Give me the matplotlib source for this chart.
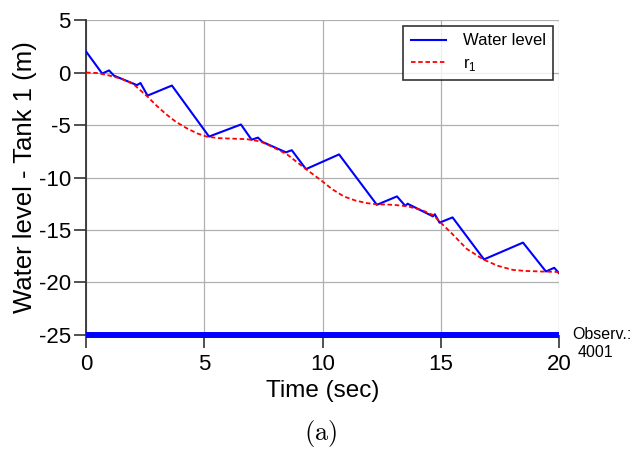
import numpy as np
import matplotlib.pyplot as plt

plt.rcParams['font.family'] = ['Liberation Sans', 'DejaVu Sans']
plt.rcParams['mathtext.fontset'] = 'custom'
plt.rcParams['mathtext.rm'] = 'Liberation Sans'
plt.rcParams['axes.unicode_minus'] = False

wl_t = [0.0, 0.68, 0.97, 1.18, 1.99, 2.15, 2.3, 2.6, 3.63, 5.2, 6.55, 7.0,
        7.27, 7.45, 8.45, 8.7, 9.3, 10.7, 12.3, 13.15, 13.5, 13.6, 14.67,
        14.75, 14.95, 15.5, 16.83, 18.48, 19.45, 19.8, 20.0]
wl_y = [2.0, -0.1, 0.2, -0.3, -1.05, -1.2, -1.0, -2.2, -1.24, -6.1, -4.95,
        -6.4, -6.2, -6.6, -7.6, -7.4, -9.2, -7.8, -12.6, -11.8, -12.7, -12.5,
        -13.7, -13.5, -14.3, -13.8, -17.8, -16.2, -18.95, -18.6, -19.1]

# reference r1
r1_t = [0.0, 0.5, 1.0, 1.5, 2.0, 2.6, 3.0, 3.4, 3.8, 4.25, 4.7, 5.1, 5.6,
        6.2, 6.8, 7.35, 7.9, 8.5, 9.3, 9.9, 10.4, 10.9, 11.4, 11.9, 12.3,
        13.0, 13.6, 14.2, 14.7, 15.0, 15.5, 16.1, 16.8, 17.4, 18.05, 18.6,
        19.2, 20.0]
r1_y = [0.0, -0.05, -0.3, -0.6, -1.1, -2.3, -3.2, -4.0, -4.7, -5.3, -5.8,
        -6.1, -6.25, -6.3, -6.35, -6.55, -7.1, -7.8, -9.2, -10.2, -11.1,
        -11.8, -12.2, -12.45, -12.55, -12.6, -12.75, -13.1, -13.6, -14.3,
        -15.4, -16.8, -17.8, -18.4, -18.8, -18.9, -18.95, -19.0]

obs_t = [0, 20]
obs_y = [-25, -25]

xticks = [0, 5, 10, 15, 20]
yticks = [5, 0, -5, -10, -15, -20, -25]

fig = plt.figure(figsize=(6.33, 4.53), dpi=100)
ax = fig.add_axes([0.136, 0.2605, 0.747, 0.6953])

ax.plot(obs_t, obs_y, color='#0000ff', lw=4.3, solid_capstyle='butt', zorder=4, clip_on=False)
ax.plot(wl_t, wl_y, color='#0000ff', lw=1.5, label='Water level', zorder=3)
ax.plot(r1_t, r1_y, color='#ff0000', lw=1.3, ls=(0, (2.5, 1.5)), label=r'r$_1$', zorder=3)

ax.set_xlim(0, 20)
ax.set_ylim(-25, 5)
ax.set_xticks(xticks)
ax.set_yticks(yticks)
ax.grid(True, color='#b0b0b0', lw=0.9)
for s in ['top', 'right', 'bottom']:
    ax.spines[s].set_visible(False)
ax.spines['left'].set_color('#333333')
ax.spines['left'].set_linewidth(1.3)
ax.tick_params(axis='both', direction='out', length=9, width=1.2, color='#333333',
               labelsize=16, pad=2)
ax.tick_params(axis='x', pad=5)

ax.set_xlabel('Time (sec)', fontsize=17.5, labelpad=3)
ax.set_ylabel('Water level - Tank 1 (m)', fontsize=18.5, labelpad=1)

leg = ax.legend(loc='upper right', fontsize=12, frameon=True, fancybox=False,
                handlelength=2.1, handletextpad=1.0, borderaxespad=0.35,
                borderpad=0.45, labelspacing=0.45)
leg.get_frame().set_edgecolor('black')
leg.get_frame().set_linewidth(1.2)

ax.text(20.55, -25, 'Observ.:', fontsize=11.5, ha='left', va='center', clip_on=False)
ax.text(21.55, -26.7, '4001', fontsize=11.5, ha='center', va='center', clip_on=False)

fig.text(0.507, 0.044, r'$\mathrm{(a)}$', fontsize=19, ha='center', va='center',
         math_fontfamily='cm')

fig.savefig('out.png', dpi=100)
